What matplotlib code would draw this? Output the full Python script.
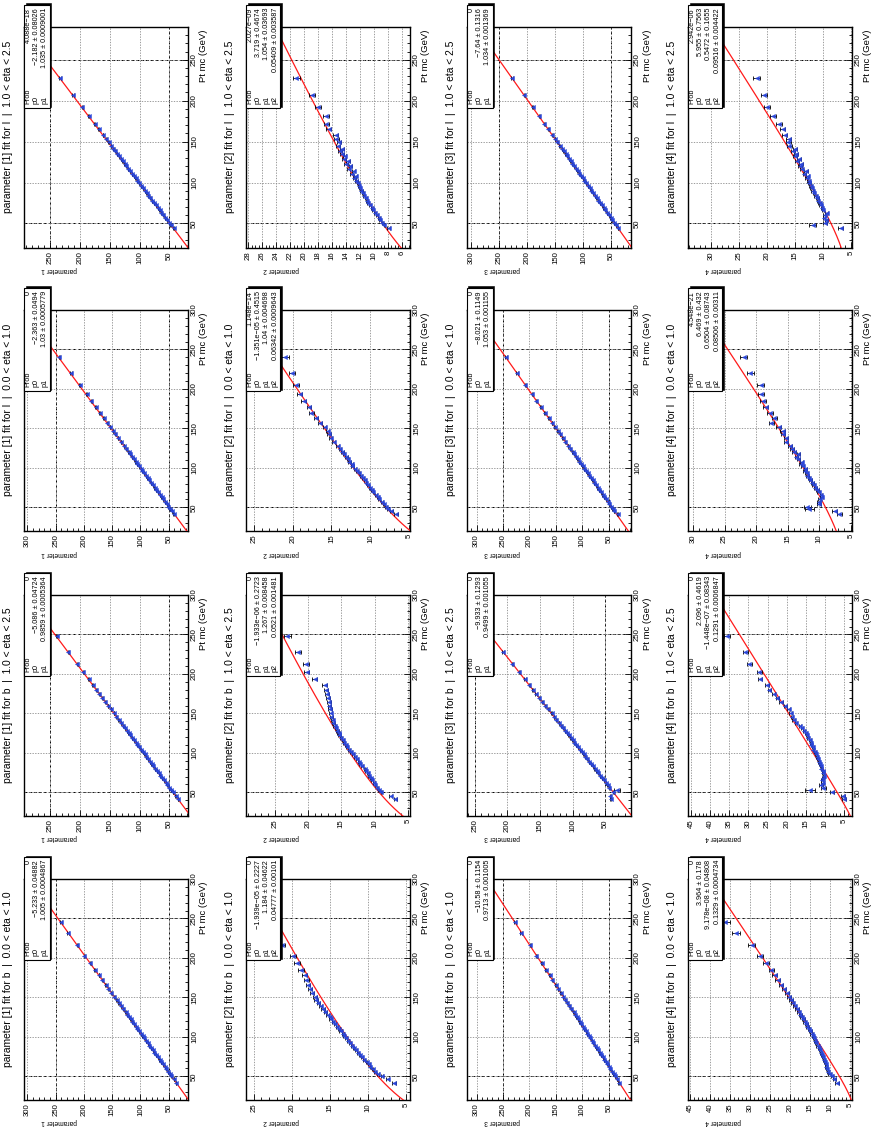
import numpy as np
import matplotlib
matplotlib.use("Agg")
import matplotlib.pyplot as plt
from matplotlib.patches import Rectangle
from matplotlib.ticker import MultipleLocator

plt.rcParams["font.family"] = ["Liberation Sans", "DejaVu Sans"]

# ------------------------------------------------------------------
# Light jets, 1.0 < eta < 2.5
# ------------------------------------------------------------------
pt_l2 = [44, 48, 51, 54, 57, 60, 63, 66, 69, 72,
         75, 78, 81, 84, 87, 90, 93, 96, 99, 102,
         105, 108, 111, 114, 117, 120, 123, 126, 129, 132,
         135, 138, 141, 145, 149, 153, 158, 165, 172, 181,
         192, 207, 228]
par1_l2 = [43.0, 47.9, 50.9, 54.0, 57.1, 60.2, 63.4, 66.5, 69.5, 72.6,
           75.7, 78.8, 81.9, 85.0, 88.1, 91.1, 94.3, 97.4, 100.4, 103.5,
           106.6, 109.6, 112.8, 115.8, 118.9, 122.0, 125.0, 128.1, 131.2, 134.2,
           137.4, 140.4, 143.5, 147.6, 151.8, 155.8, 160.9, 168.0, 175.2, 184.5,
           195.9, 211.3, 232.6]
par2_l2 = [7.9, 8.5, 8.8, 9.1, 9.3, 9.6, 9.9, 10.1, 10.3, 10.6,
           10.8, 11.0, 11.1, 11.4, 11.6, 11.8, 12.0, 12.1, 12.3, 12.5,
           12.8, 12.6, 13.2, 12.9, 13.6, 13.4, 14.0, 13.7, 14.3, 14.2,
           14.6, 14.8, 14.6, 15.2, 15.0, 15.4, 15.5, 16.5, 16.8, 16.9,
           18.0, 18.9, 21.1]
par3_l2 = [38.6, 42.3, 45.6, 48.4, 51.6, 54.6, 57.7, 60.8, 63.9, 67.1,
           70.1, 73.2, 76.4, 79.4, 82.5, 85.7, 88.7, 91.8, 94.9, 98.1,
           101.1, 104.2, 107.2, 110.4, 113.4, 116.5, 119.7, 122.7, 125.9, 128.9,
           132.0, 135.2, 138.1, 142.4, 146.4, 150.6, 155.5, 162.9, 169.8, 179.1,
           190.8, 205.8, 227.3]
par4_l2 = [6.8, 11.8, 9.6, 9.4, 9.8, 9.7, 9.3, 10.0, 10.2, 10.4,
           10.6, 10.9, 11.0, 11.3, 11.6, 11.8, 12.0, 12.2, 12.4, 12.5,
           12.9, 12.7, 13.3, 13.0, 13.8, 14.1, 13.9, 14.6, 14.3, 15.0,
           14.8, 15.4, 15.0, 16.0, 16.2, 16.1, 16.8, 17.2, 17.8, 18.9,
           20.0, 20.5, 21.8]
err_small_l2 = [0.40, 0.35, 0.30, 0.30, 0.28, 0.28, 0.27, 0.27, 0.27, 0.28,
                0.28, 0.29, 0.30, 0.31, 0.32, 0.33, 0.34, 0.35, 0.36, 0.37,
                0.38, 0.39, 0.40, 0.42, 0.43, 0.45, 0.46, 0.48, 0.50, 0.52,
                0.54, 0.56, 0.58, 0.61, 0.64, 0.67, 0.71, 0.77, 0.83, 0.90,
                1.00, 1.15, 1.40]
err2_l2 = [0.20, 0.13, 0.12, 0.12, 0.11, 0.12, 0.12, 0.12, 0.13, 0.13,
           0.13, 0.14, 0.14, 0.15, 0.15, 0.16, 0.16, 0.17, 0.17, 0.18,
           0.19, 0.20, 0.20, 0.22, 0.22, 0.23, 0.24, 0.25, 0.26, 0.26,
           0.27, 0.28, 0.30, 0.30, 0.32, 0.33, 0.34, 0.36, 0.38, 0.40,
           0.42, 0.45, 0.50]
err4_l2 = [0.45, 0.60, 0.30, 0.28, 0.25, 0.25, 0.25, 0.22, 0.22, 0.22,
           0.22, 0.22, 0.22, 0.23, 0.23, 0.24, 0.24, 0.25, 0.25, 0.26,
           0.27, 0.28, 0.28, 0.30, 0.30, 0.31, 0.32, 0.33, 0.34, 0.35,
           0.36, 0.37, 0.38, 0.40, 0.42, 0.43, 0.45, 0.48, 0.50, 0.52,
           0.55, 0.60, 0.65]

# ------------------------------------------------------------------
# Light jets, 0.0 < eta < 1.0
# ------------------------------------------------------------------
pt_l0 = [42, 45, 48, 51, 54, 57, 60, 63, 66, 69,
         72, 75, 78, 81, 84, 87, 90, 93, 96, 99,
         102, 105, 108, 111, 114, 117, 120, 124, 128, 133,
         138, 143, 147, 152, 157, 163, 170, 177, 185, 193,
         205, 220, 240]
par1_l0 = [41.3, 44.2, 47.4, 50.5, 53.6, 56.6, 59.7, 62.8, 65.9, 68.9,
           72.0, 75.1, 78.2, 81.2, 84.3, 87.4, 90.4, 93.5, 96.6, 99.6,
           102.7, 105.8, 108.8, 111.9, 115.0, 118.0, 121.1, 125.2, 129.3, 134.4,
           139.5, 144.6, 148.6, 153.8, 158.7, 164.9, 172.0, 179.2, 187.4, 195.4,
           207.6, 222.9, 243.3]
par2_l0 = [6.7, 7.3, 7.7, 8.0, 8.3, 8.5, 8.9, 9.0, 9.3, 9.6,
           9.8, 10.1, 10.3, 10.5, 10.7, 10.9, 11.2, 11.4, 11.7, 12.0,
           12.3, 12.4, 12.7, 12.9, 13.1, 13.4, 13.6, 13.9, 14.2, 14.7,
           15.1, 15.3, 15.5, 15.9, 16.5, 17.0, 17.6, 17.9, 18.6, 19.1,
           19.6, 20.1, 21.0]
par3_l0 = [33.5, 39.9, 42.8, 45.8, 48.9, 52.0, 55.3, 58.5, 61.7, 64.8,
           68.0, 71.1, 74.3, 77.4, 80.6, 83.7, 86.9, 90.0, 93.2, 96.3,
           99.5, 102.6, 105.8, 108.9, 112.1, 115.2, 118.4, 122.6, 126.8, 132.0,
           137.3, 142.5, 146.7, 152.0, 157.3, 163.6, 171.0, 178.3, 186.8, 195.0,
           207.7, 223.5, 244.5]
par4_l0 = [6.8, 7.5, 11.6, 11.9, 10.0, 10.1, 9.9, 9.6, 9.7, 10.1,
           10.3, 10.6, 10.9, 11.1, 11.4, 11.6, 11.9, 12.0, 12.3, 12.2,
           12.6, 12.9, 12.8, 13.3, 13.6, 13.3, 14.0, 14.3, 14.7, 15.2,
           15.3, 15.7, 15.8, 16.4, 17.6, 17.1, 17.8, 18.5, 18.9, 19.2,
           19.3, 20.9, 22.0]
err_small_l0 = [0.45, 0.38, 0.33, 0.30, 0.28, 0.27, 0.26, 0.26, 0.26, 0.27,
                0.27, 0.28, 0.29, 0.30, 0.31, 0.32, 0.33, 0.34, 0.35, 0.36,
                0.37, 0.38, 0.40, 0.41, 0.42, 0.44, 0.45, 0.47, 0.49, 0.52,
                0.55, 0.58, 0.60, 0.63, 0.66, 0.70, 0.75, 0.80, 0.86, 0.92,
                1.02, 1.15, 1.35]
err2_l0 = [0.25, 0.18, 0.14, 0.12, 0.11, 0.10, 0.10, 0.10, 0.10, 0.10,
           0.10, 0.10, 0.11, 0.11, 0.11, 0.12, 0.12, 0.12, 0.13, 0.13,
           0.14, 0.14, 0.15, 0.15, 0.16, 0.16, 0.17, 0.18, 0.19, 0.20,
           0.21, 0.22, 0.23, 0.24, 0.25, 0.27, 0.29, 0.31, 0.33, 0.35,
           0.38, 0.42, 0.48]
err4_l0 = [0.35, 0.40, 0.70, 0.55, 0.30, 0.26, 0.24, 0.22, 0.21, 0.20,
           0.20, 0.20, 0.20, 0.20, 0.21, 0.21, 0.22, 0.22, 0.23, 0.23,
           0.24, 0.25, 0.25, 0.26, 0.27, 0.28, 0.29, 0.30, 0.31, 0.32,
           0.34, 0.35, 0.36, 0.38, 0.40, 0.42, 0.44, 0.46, 0.48, 0.50,
           0.53, 0.57, 0.62]

# ------------------------------------------------------------------
# b jets, 1.0 < eta < 2.5
# ------------------------------------------------------------------
pt_b2 = [41, 45, 50, 53, 56, 59, 62, 65, 68, 71,
         74, 77, 80, 83, 86, 89, 92, 95, 98, 101,
         104, 107, 110, 113, 116, 119, 122, 125, 128, 131,
         134, 138, 142, 146, 150, 155, 160, 165, 170, 175,
         180, 186, 193, 202, 213, 228, 248]
par1_b2 = [36.0, 39.6, 44.5, 47.4, 50.3, 53.3, 56.2, 59.2, 62.1, 65.0,
           68.0, 71.0, 73.9, 76.9, 79.8, 82.8, 85.7, 88.7, 91.6, 94.6,
           97.5, 100.4, 103.4, 106.3, 109.3, 112.2, 115.2, 118.1, 121.0, 124.0,
           126.9, 130.9, 134.8, 138.7, 142.6, 147.5, 152.5, 157.3, 162.3, 167.1,
           172.0, 177.9, 184.8, 193.6, 204.2, 218.9, 238.5]
par2_b2 = [6.9, 7.6, 9.0, 9.4, 9.6, 9.9, 10.1, 10.4, 10.6, 10.9,
           11.0, 11.3, 11.5, 11.9, 12.2, 12.4, 12.7, 12.9, 13.2, 13.6,
           13.9, 14.1, 14.3, 14.6, 14.8, 15.0, 15.3, 15.4, 15.6, 15.8,
           16.0, 16.2, 16.3, 16.5, 16.6, 16.7, 16.8, 16.9, 17.0, 17.2,
           17.3, 17.5, 19.0, 20.2, 20.3, 21.5, 23.1]
par3_b2 = [41.5, 42.3, 37.8, 31.5, 43.6, 46.4, 49.2, 52.0, 54.9, 57.7,
           60.5, 63.4, 66.2, 69.1, 71.9, 74.8, 77.5, 80.4, 83.2, 86.0,
           88.9, 91.7, 94.6, 97.4, 100.2, 103.0, 105.9, 108.7, 111.6, 114.4,
           117.2, 121.0, 124.9, 128.7, 132.4, 137.2, 142.0, 146.6, 151.5, 156.2,
           161.0, 166.6, 173.2, 181.8, 192.5, 206.6, 224.5]
par4_b2 = [5.0, 5.3, 8.2, 13.9, 10.4, 11.0, 10.6, 10.8, 10.5, 10.2,
           10.4, 10.6, 10.9, 11.1, 11.3, 11.6, 11.8, 12.1, 12.3, 12.6,
           13.0, 13.2, 13.5, 13.7, 14.0, 14.3, 14.6, 15.0, 15.4, 15.9,
           16.5, 17.6, 18.2, 18.6, 18.9, 19.5, 20.3, 21.5, 22.4, 23.4,
           24.5, 25.1, 26.9, 27.1, 29.8, 30.8, 35.5]
err_small_b2 = [0.45, 0.40, 0.33, 0.30, 0.28, 0.27, 0.26, 0.26, 0.26, 0.26,
                0.27, 0.27, 0.28, 0.29, 0.30, 0.31, 0.32, 0.33, 0.34, 0.35,
                0.36, 0.37, 0.38, 0.39, 0.40, 0.42, 0.43, 0.44, 0.46, 0.47,
                0.49, 0.51, 0.53, 0.55, 0.58, 0.61, 0.64, 0.67, 0.70, 0.74,
                0.78, 0.83, 0.89, 0.96, 1.05, 1.20, 1.45]
err2_b2 = [0.20, 0.18, 0.12, 0.10, 0.10, 0.10, 0.10, 0.10, 0.10, 0.10,
           0.11, 0.11, 0.11, 0.12, 0.12, 0.12, 0.13, 0.13, 0.14, 0.14,
           0.15, 0.15, 0.16, 0.16, 0.17, 0.17, 0.18, 0.19, 0.19, 0.20,
           0.21, 0.22, 0.23, 0.24, 0.25, 0.26, 0.27, 0.28, 0.29, 0.30,
           0.31, 0.33, 0.35, 0.37, 0.40, 0.44, 0.50]
err3_b2 = [1.00, 0.90, 0.60, 4.50, 0.35, 0.32, 0.30, 0.30, 0.30, 0.30,
           0.31, 0.31, 0.32, 0.33, 0.34, 0.35, 0.36, 0.37, 0.38, 0.39,
           0.40, 0.41, 0.42, 0.44, 0.45, 0.47, 0.48, 0.50, 0.51, 0.53,
           0.55, 0.57, 0.59, 0.62, 0.65, 0.68, 0.71, 0.75, 0.79, 0.83,
           0.88, 0.93, 1.00, 1.08, 1.18, 1.35, 1.60]
err4_b2 = [0.40, 0.45, 0.50, 1.40, 0.60, 0.45, 0.35, 0.30, 0.28, 0.26,
           0.24, 0.22, 0.21, 0.21, 0.21, 0.21, 0.22, 0.22, 0.22, 0.23,
           0.23, 0.24, 0.25, 0.25, 0.26, 0.27, 0.28, 0.29, 0.30, 0.31,
           0.32, 0.34, 0.35, 0.37, 0.38, 0.40, 0.42, 0.44, 0.46, 0.48,
           0.50, 0.53, 0.57, 0.61, 0.66, 0.72, 0.80]

# ------------------------------------------------------------------
# b jets, 0.0 < eta < 1.0
# ------------------------------------------------------------------
pt_b0 = [42, 46, 50, 53, 56, 59, 62, 65, 68, 71,
         74, 77, 80, 83, 86, 89, 92, 95, 98, 101,
         104, 107, 110, 113, 116, 119, 122, 125, 128, 131,
         135, 139, 143, 147, 151, 156, 161, 166, 172, 178,
         185, 193, 203, 216, 232, 245]
par1_b0 = [37.3, 41.0, 45.2, 48.0, 51.2, 54.1, 57.2, 60.1, 63.2, 66.2,
           69.3, 72.2, 75.3, 78.2, 81.3, 84.3, 87.2, 90.3, 93.2, 96.3,
           99.3, 102.2, 105.4, 108.3, 111.3, 114.4, 117.3, 120.5, 123.4, 126.4,
           130.5, 134.4, 138.6, 142.4, 146.6, 151.4, 156.7, 161.5, 167.7, 173.4,
           180.9, 188.5, 199.1, 211.6, 228.3, 240.6]
par2_b0 = [6.6, 7.4, 8.2, 8.7, 9.1, 9.4, 9.7, 9.9, 10.2, 10.5,
           10.8, 11.1, 11.3, 11.6, 11.9, 12.1, 12.4, 12.6, 12.9, 13.1,
           13.3, 13.6, 13.8, 14.1, 14.3, 14.6, 14.9, 15.0, 15.3, 15.6,
           15.9, 16.2, 16.5, 16.8, 17.0, 17.4, 17.6, 17.9, 18.1, 18.3,
           18.8, 19.3, 19.8, 21.3, 21.9, 22.6]
par3_b0 = [31.4, 34.2, 38.5, 41.0, 44.3, 46.8, 50.0, 52.6, 55.8, 58.4,
           61.6, 64.2, 67.4, 70.0, 73.2, 75.8, 79.0, 81.7, 84.9, 87.5,
           90.7, 93.3, 96.5, 99.1, 102.4, 105.0, 108.2, 110.8, 114.0, 116.6,
           120.8, 124.3, 128.6, 132.1, 136.4, 140.8, 146.2, 150.4, 156.9, 162.0,
           169.6, 176.5, 187.2, 198.6, 215.6, 226.7]
par4_b0 = [8.4, 9.0, 9.6, 10.2, 10.5, 10.8, 11.0, 11.2, 11.4, 11.6,
           11.8, 12.0, 12.3, 12.6, 12.9, 13.2, 13.5, 13.8, 14.1, 14.4,
           14.7, 15.0, 15.3, 15.7, 16.0, 16.4, 16.8, 17.1, 17.5, 17.9,
           18.3, 18.9, 19.4, 19.8, 20.4, 20.9, 21.6, 22.3, 23.1, 23.9,
           24.7, 26.0, 27.5, 29.6, 33.6, 36.2]
err_small_b0 = [0.45, 0.38, 0.33, 0.30, 0.28, 0.27, 0.26, 0.26, 0.26, 0.27,
                0.27, 0.28, 0.29, 0.30, 0.31, 0.32, 0.33, 0.34, 0.35, 0.36,
                0.37, 0.38, 0.40, 0.41, 0.42, 0.44, 0.45, 0.47, 0.49, 0.51,
                0.53, 0.56, 0.58, 0.61, 0.64, 0.67, 0.71, 0.75, 0.80, 0.85,
                0.92, 1.00, 1.10, 1.25, 1.45, 1.65]
err2_b0 = [0.30, 0.20, 0.15, 0.12, 0.11, 0.10, 0.10, 0.10, 0.10, 0.10,
           0.10, 0.11, 0.11, 0.11, 0.12, 0.12, 0.12, 0.13, 0.13, 0.14,
           0.14, 0.15, 0.15, 0.16, 0.16, 0.17, 0.18, 0.18, 0.19, 0.20,
           0.21, 0.22, 0.23, 0.24, 0.25, 0.26, 0.28, 0.29, 0.31, 0.33,
           0.35, 0.38, 0.41, 0.45, 0.50, 0.55]
err4_b0 = [0.45, 0.40, 0.35, 0.30, 0.28, 0.26, 0.25, 0.24, 0.24, 0.24,
           0.24, 0.24, 0.25, 0.25, 0.26, 0.26, 0.27, 0.27, 0.28, 0.29,
           0.30, 0.31, 0.32, 0.33, 0.34, 0.35, 0.36, 0.37, 0.38, 0.40,
           0.41, 0.43, 0.45, 0.47, 0.49, 0.51, 0.54, 0.57, 0.60, 0.64,
           0.68, 0.73, 0.79, 0.86, 0.95, 1.05]

# ------------------------------------------------------------------
# Fit results: (Prob, [(value, error), ...])
# 2 parameters: p0 + p1*pt ; 3 parameters: sqrt(p0^2 + p1^2*pt + p2^2*pt^2)
# ------------------------------------------------------------------
fit1_l2 = ("4.088e-18", [("-2.182", "0.08026"), ("1.035", "0.0009001")])
fit2_l2 = ("2.027e-09", [("3.719", "0.4674"), ("1.054", "0.03693"), ("0.05409", "0.003587")])
fit3_l2 = ("0", [("-7.64", "0.1316"), ("1.034", "0.001369")])
fit4_l2 = ("2.942e-06", [("5.955", "0.7563"), ("0.5472", "0.1655"), ("0.09516", "0.004422")])

fit1_l0 = ("0", [("-2.363", "0.0494"), ("1.03", "0.0005779")])
fit2_l0 = ("1.148e-14", [("-1.351e-05", "0.4515"), ("1.04", "0.004698"), ("0.06342", "0.0009643")])
fit3_l0 = ("0", [("-8.021", "0.1149"), ("1.053", "0.001155")])
fit4_l0 = ("4.548e-21", [("6.469", "0.432"), ("0.6504", "0.08743"), ("0.08506", "0.00311")])

fit1_b2 = ("0", [("-5.086", "0.04724"), ("0.9859", "0.0005364")])
fit2_b2 = ("0", [("-1.933e-06", "0.2723"), ("1.267", "0.008458"), ("0.0521", "0.001481")])
fit3_b2 = ("0", [("-9.933", "0.1293"), ("0.9499", "0.001055")])
fit4_b2 = ("0", [("2.096", "0.4619"), ("-1.448e-07", "0.08343"), ("0.1291", "0.0006847")])

fit1_b0 = ("0", [("-5.233", "0.04882"), ("1.005", "0.0004867")])
fit2_b0 = ("0", [("-1.939e-05", "0.2227"), ("1.184", "0.04622"), ("0.04777", "0.00101")])
fit3_b0 = ("0", [("-10.58", "0.1154"), ("0.9713", "0.001005")])
fit4_b0 = ("0", [("3.964", "0.178"), ("9.178e-08", "0.04808"), ("0.1329", "0.0004734")])

# axis limits
ptlim_l2, ptlim_l0, ptlim_b2, ptlim_b0 = (20, 290), (20, 300), (20, 300), (20, 300)
plim_l2 = [(19, 293), (4.85, 28.3), (15, 308), (4.8, 34.1)]
plim_l0 = [(16, 306), (4.9, 26.0), (8, 318), (4.8, 30.8)]
plim_b2 = [(19, 293), (4.7, 29.3), (10.5, 262), (2.9, 45.8)]
plim_b0 = [(16, 306), (4.5, 26.0), (8, 318), (4.6, 45.5)]

categories = [
    ("l", "1.0 < eta < 2.5", pt_l2, ptlim_l2, plim_l2,
     [par1_l2, par2_l2, par3_l2, par4_l2],
     [err_small_l2, err2_l2, err_small_l2, err4_l2],
     [fit1_l2, fit2_l2, fit3_l2, fit4_l2]),
    ("l", "0.0 < eta < 1.0", pt_l0, ptlim_l0, plim_l0,
     [par1_l0, par2_l0, par3_l0, par4_l0],
     [err_small_l0, err2_l0, err_small_l0, err4_l0],
     [fit1_l0, fit2_l0, fit3_l0, fit4_l0]),
    ("b", "1.0 < eta < 2.5", pt_b2, ptlim_b2, plim_b2,
     [par1_b2, par2_b2, par3_b2, par4_b2],
     [err_small_b2, err2_b2, err3_b2, err4_b2],
     [fit1_b2, fit2_b2, fit3_b2, fit4_b2]),
    ("b", "0.0 < eta < 1.0", pt_b0, ptlim_b0, plim_b0,
     [par1_b0, par2_b0, par3_b0, par4_b0],
     [err_small_b0, err2_b0, err_small_b0, err4_b0],
     [fit1_b0, fit2_b0, fit3_b0, fit4_b0]),
]

# ------------------------------------------------------------------
# Page layout (pixels, the page is printed rotated by 90 degrees)
# ------------------------------------------------------------------
W, H = 874, 1128
COL_X = [24, 246, 467, 688]
ROW_Y = [27, 310, 595, 879]
FW, FH = 164, 221

fig = plt.figure(figsize=(W / 100, H / 100), dpi=100)
fig.patch.set_facecolor("white")


def fxy(px, py):
    return px / W, 1 - py / H


def minus(s):
    return s.replace("-", "\u2212")


def draw_panel(col, row, flavour, eta, pts, vals, errs, fit, plim, ptlim):
    x0, y0 = COL_X[col], ROW_Y[row]
    left, bottom = fxy(x0, y0 + FH)
    ax = fig.add_axes([left, bottom, FW / W, FH / H])
    ax.set_xlim(plim[1], plim[0])
    ax.set_ylim(*ptlim)

    if col in (0, 2):
        major, minor, marks = 50, 10, (50, 250)
    elif col == 1 and row == 0:
        major, minor, marks = 2, 0.5, ()
    else:
        major, minor, marks = 5, 1, ()
    ax.xaxis.set_major_locator(MultipleLocator(major))
    ax.xaxis.set_minor_locator(MultipleLocator(minor))
    ax.yaxis.set_major_locator(MultipleLocator(50))
    ax.yaxis.set_minor_locator(MultipleLocator(10))

    ax.tick_params(which="both", direction="in", top=False, left=False,
                   right=True, bottom=True, labelleft=False, labelright=True,
                   labelbottom=True, width=0.6, colors="black")
    ax.tick_params(which="major", length=4.2)
    ax.tick_params(which="minor", length=2.2)
    ax.tick_params(axis="x", labelrotation=90, labelsize=5.6, pad=2.2)
    ax.tick_params(axis="y", labelrotation=90, labelsize=5.6, pad=2.2)
    for t in ax.get_yticklabels():
        t.set_va("center")
    for sp in ax.spines.values():
        sp.set_linewidth(1.0)
        sp.set_color("black")

    ax.grid(True, which="major", color="#8c8c8c", linestyle=(0, (1.6, 1.6)),
            linewidth=0.6, zorder=0)
    for v in (50, 250):
        if ptlim[0] < v < ptlim[1]:
            ax.axhline(v, color="black", linestyle=(0, (3, 2)), linewidth=0.7, zorder=1)
    for v in marks:
        if plim[0] < v < plim[1]:
            ax.axvline(v, color="black", linestyle=(0, (3, 2)), linewidth=0.7, zorder=1)

    # fitted function
    p = [float(v) for v, _ in fit[1]]
    xs = np.linspace(ptlim[0], ptlim[1], 400)
    if len(p) == 2:
        ys = p[0] + p[1] * xs
    else:
        ys = np.sqrt(p[0] ** 2 + p[1] ** 2 * xs + p[2] ** 2 * xs ** 2)
    ax.plot(ys, xs, color="#ff1a1a", linewidth=0.9, zorder=3)

    # measured points
    ax.errorbar(vals, pts, xerr=errs, fmt="none", ecolor="black",
                elinewidth=0.6, capsize=1.3, capthick=0.6, zorder=4)
    ax.plot(vals, pts, linestyle="none", marker="<", markersize=3.0,
            color="#2a46da", markeredgewidth=0.3, zorder=5)

    # titles
    tx, ty = fxy(x0 - 16, y0 + 100)
    fig.text(tx, ty, f"parameter [{col + 1}] fit for {flavour}  |  {eta}",
             rotation=90, ha="center", va="center", fontsize=7.4)
    lx, ly = fxy(x0 + FW + 16, y0 + 2)
    fig.text(lx, ly, "Pt mc (GeV)", rotation=90, ha="center", va="top", fontsize=6.8)
    px_, py_ = fxy(x0 + 17, y0 + FH + 22)
    fig.text(px_, py_, f"parameter {col + 1}", rotation=180, ha="left",
             va="center", fontsize=4.8)

    # statistics box with a thin drop shadow
    names = ["Prob"] + [f"p{i}" for i in range(len(fit[1]))]
    texts = [fit[0]] + [f"{v} \u00b1 {e}" for v, e in fit[1]]
    n = len(names)
    bw, btop, bbot = 8.3 * n + 1, y0 - 22, y0 + 81
    sx, sy = fxy(x0 + 1.5, bbot - 1.5)
    fig.add_artist(Rectangle((sx, sy), bw / W, (bbot - btop) / H,
                             transform=fig.transFigure, facecolor="black",
                             edgecolor="black", linewidth=0.4, zorder=9))
    bx, by = fxy(x0, bbot)
    fig.add_artist(Rectangle((bx, by), bw / W, (bbot - btop) / H,
                             transform=fig.transFigure, facecolor="white",
                             edgecolor="black", linewidth=0.8, zorder=10))
    for i, (nm, tv) in enumerate(zip(names, texts)):
        cx = x0 + 4.2 + 8.3 * i
        ax_, ay_ = fxy(cx, bbot - 4)
        fig.text(ax_, ay_, nm, rotation=90, ha="center", va="bottom",
                 fontsize=5.2, zorder=11)
        vx_, vy_ = fxy(cx, btop + 3)
        fig.text(vx_, vy_, minus(tv), rotation=90, ha="center", va="top",
                 fontsize=5.2, zorder=11)


for row, (flavour, eta, pts, ptlim, plims, pars, errs, fits) in enumerate(categories):
    for col in range(4):
        draw_panel(col, row, flavour, eta, pts, pars[col], errs[col], fits[col],
                   plims[col], ptlim)

fig.savefig("out.png", dpi=100, facecolor="white")
